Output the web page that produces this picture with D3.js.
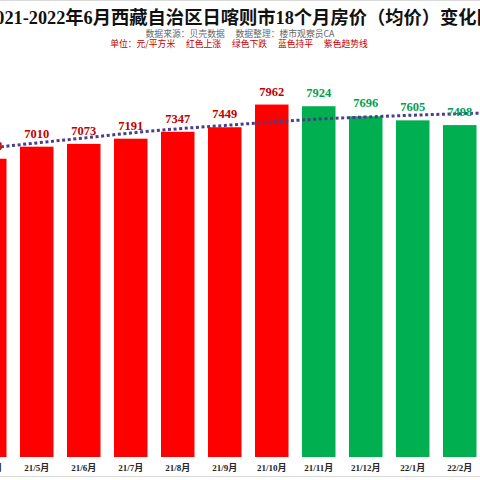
<!DOCTYPE html>
<html lang="zh">
<head>
<meta charset="utf-8">
<title>日喀则市房价变化图</title>
<script src="https://d3js.org/d3.v7.min.js"></script>
<style>
  body { margin: 0; background: #fff; }
  svg { display: block; }
  .t { white-space: pre; }
</style>
</head>
<body>
<script>
// visible part of the 18-month chart (cropped at both sides)
const months = ["21/4月", "21/5月", "21/6月", "21/7月", "21/8月", "21/9月", "21/10月",
                "21/11月", "21/12月", "22/1月", "22/2月", "22/3月"];
const prices = [6738, 7010, 7073, 7191, 7347, 7449, 7962, 7924, 7696, 7605, 7498];
// purple trend line, read at each month
const trend = [6982, 7095, 7206, 7319, 7414, 7490, 7567, 7635, 7680, 7721, 7755, 7782];

const title = "2021-2022年6月西藏自治区日喀则市18个月房价（均价）变化图";
const source = "数据来源：贝壳数据　 数据整理：楼市观察员CA";
const unitNote = "单位：元/平方米　 红色上涨　 绿色下跌　 蓝色持平　 紫色趋势线";

const w = 480, h = 480;
const serif = "'Liberation Serif', 'Noto Sans CJK SC', serif";

const svg = d3.select("body").append("svg")
  .attr("width", w).attr("height", h);

// chart border (top and bottom edges visible)
svg.append("rect")
  .attr("x", -5).attr("y", 0.5)
  .attr("width", w + 10).attr("height", 476)
  .attr("fill", "none").attr("stroke", "#d9d9d9");

const x = d3.scaleBand()
  .domain(months)
  .range([-33.75, -33.75 + 47 * months.length])
  .paddingInner(0.287)
  .paddingOuter(0.1435);

const y = d3.scaleLinear()
  .domain([0, 9000])
  .range([457, 58.6]);

const barColor = (d, i) => (i > 0 && d < prices[i - 1]) ? "#00b050" : "#ff0000";
const labelColor = (d, i) => (i > 0 && d < prices[i - 1]) ? "#00a050" : "#c00000";

// bars
svg.selectAll("rect.bar")
  .data(prices)
  .enter()
  .append("rect")
  .attr("class", "bar")
  .attr("x", (d, i) => x(months[i]))
  .attr("y", d => y(d))
  .attr("width", x.bandwidth())
  .attr("height", d => y(0) - y(d))
  .attr("fill", barColor);

// trend line
const line = d3.line()
  .x((d, i) => x(months[i]) + x.bandwidth() / 2)
  .y(d => y(d))
  .curve(d3.curveMonotoneX);

svg.append("path")
  .datum(trend)
  .attr("d", line)
  .attr("fill", "none")
  .attr("stroke", "#4b3d8c")
  .attr("stroke-width", 3)
  .attr("stroke-dasharray", "3,2.6");

// value labels
svg.selectAll("text.val")
  .data(prices)
  .enter()
  .append("text")
  .attr("class", "val")
  .attr("x", (d, i) => x(months[i]) + x.bandwidth() / 2)
  .attr("y", d => y(d) - 9)
  .attr("text-anchor", "middle")
  .attr("font-family", serif)
  .attr("font-size", 12.5)
  .attr("font-weight", "bold")
  .attr("fill", labelColor)
  .text(d => d);

// x axis labels
svg.selectAll("text.month")
  .data(months)
  .enter()
  .append("text")
  .attr("class", "month")
  .attr("x", d => x(d) + x.bandwidth() / 2)
  .attr("y", 471)
  .attr("text-anchor", "middle")
  .attr("font-family", serif)
  .attr("font-size", 9)
  .attr("font-weight", "bold")
  .attr("fill", "#262626")
  .text(d => d);

// titles
svg.append("text")
  .attr("x", 240.5).attr("y", 24)
  .attr("text-anchor", "middle")
  .attr("font-family", serif)
  .attr("font-size", 18.3)
  .attr("font-weight", "bold")
  .attr("fill", "#111")
  .text(title);

svg.append("text")
  .attr("class", "t")
  .attr("x", 240).attr("y", 36.5)
  .attr("text-anchor", "middle")
  .attr("font-family", "'Noto Sans CJK SC', sans-serif")
  .attr("font-size", 8.8)
  .attr("fill", "#666")
  .text(source);

svg.append("text")
  .attr("class", "t")
  .attr("x", 239).attr("y", 46.5)
  .attr("text-anchor", "middle")
  .attr("font-family", "'Noto Sans CJK SC', sans-serif")
  .attr("font-size", 8.8)
  .attr("fill", "#c00000")
  .text(unitNote);
</script>
</body>
</html>
